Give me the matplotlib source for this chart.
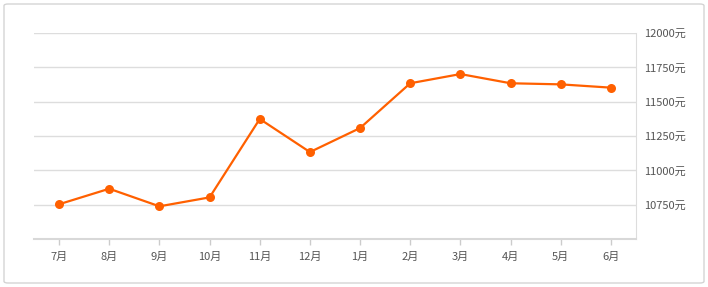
import matplotlib
matplotlib.use('Agg')
import matplotlib.pyplot as plt
from matplotlib.patches import FancyBboxPatch

plt.rcParams['font.family'] = ['Noto Sans CJK SC', 'DejaVu Sans']

months = ['7月', '8月', '9月', '10月', '11月', '12月', '1月', '2月', '3月', '4月', '5月', '6月']
prices = [10753, 10866, 10738, 10803, 11374, 11133, 11308, 11634, 11701, 11634, 11626, 11602]
y_ticks = [10750, 11000, 11250, 11500, 11750, 12000]
y_labels = ['%d元' % v for v in y_ticks]

fig = plt.figure(figsize=(7.08, 2.87), dpi=100)

# outer rounded frame, kept behind the axes
frame = FancyBboxPatch((4 / 708, 4 / 287), 700 / 708, 279 / 287,
                       boxstyle='round,pad=0,rounding_size=0.006',
                       transform=fig.transFigure, facecolor='none',
                       edgecolor='#d4d4d4', linewidth=1.0, zorder=-1)
fig.patches.append(frame)

ax = fig.add_axes([34 / 708, 48 / 287, 602 / 708, 206 / 287])
ax.set_facecolor('none')

x = range(len(months))
ax.plot(x, prices, color='#ff6000', linewidth=1.6, marker='o',
        markersize=6.5, markeredgewidth=0, zorder=3, clip_on=False)

ax.set_xlim(-0.5, len(months) - 0.5)
ax.set_ylim(10500, 12000)

ax.yaxis.tick_right()
ax.set_yticks(y_ticks)
ax.set_yticklabels(y_labels)
ax.tick_params(axis='y', length=0, pad=6, labelsize=8, labelcolor='#555555')
for lbl in ax.get_yticklabels():
    lbl.set_horizontalalignment('left')

ax.set_xticks(list(x))
ax.set_xticklabels(months)
ax.tick_params(axis='x', length=4, width=1, color='#cccccc', pad=5,
               labelsize=8, labelcolor='#555555')

ax.grid(axis='y', color='#dddddd', linewidth=1)
ax.set_axisbelow(True)

ax.spines['top'].set_visible(False)
ax.spines['left'].set_visible(False)
ax.spines['right'].set_color('#dddddd')
ax.spines['bottom'].set_color('#d8d8d8')
ax.spines['bottom'].set_linewidth(1.5)

fig.savefig('out.png', dpi=100)
